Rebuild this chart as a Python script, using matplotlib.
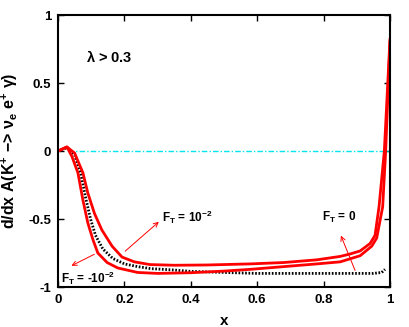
import matplotlib
matplotlib.use("Agg")
import matplotlib.pyplot as plt

plt.rcParams['font.family'] = ['Liberation Sans', 'DejaVu Sans']
plt.rcParams['font.weight'] = 'bold'
plt.rcParams['mathtext.fontset'] = 'custom'
plt.rcParams['mathtext.rm'] = 'Liberation Sans:bold'
plt.rcParams['mathtext.it'] = 'Liberation Sans:bold'
plt.rcParams['mathtext.bf'] = 'Liberation Sans:bold'

# F_T = 10^-2 (upper red)
x_pos = [0, 0.027, 0.05, 0.075, 0.09, 0.11, 0.132, 0.163, 0.193, 0.23, 0.277, 0.35, 0.45,
         0.58, 0.68, 0.78, 0.85, 0.88, 0.91, 0.94, 0.955, 0.967, 0.983, 1.0]
y_pos = [0, 0.03, -0.015, -0.16, -0.31, -0.46, -0.58, -0.70, -0.78, -0.815, -0.835, -0.84,
         -0.838, -0.83, -0.82, -0.80, -0.775, -0.757, -0.735, -0.68, -0.62, -0.41, 0.0, 0.82]

# F_T = -10^-2 (lower red)
x_neg = [0, 0.027, 0.042, 0.06, 0.075, 0.09, 0.105, 0.12, 0.148, 0.18, 0.24, 0.3, 0.4, 0.5,
         0.58, 0.68, 0.78, 0.85, 0.91, 0.945, 0.96, 0.978, 0.987, 1.0]
y_neg = [0, 0.03, -0.04, -0.16, -0.36, -0.53, -0.65, -0.75, -0.82, -0.86, -0.893, -0.90,
         -0.895, -0.883, -0.87, -0.85, -0.83, -0.815, -0.77, -0.70, -0.64, -0.41, 0.0, 0.80]

# F_T = 0 (black dotted)
x_zero = [0, 0.027, 0.05, 0.068, 0.083, 0.098, 0.113, 0.135, 0.165, 0.2, 0.24, 0.28, 0.35,
          0.4, 0.5, 0.6, 0.8, 0.95, 0.975, 0.985]
y_zero = [0, 0.025, -0.03, -0.16, -0.34, -0.5, -0.62, -0.72, -0.79, -0.83, -0.85, -0.865,
          -0.875, -0.885, -0.893, -0.9, -0.9, -0.9, -0.893, -0.87]

x_ticks = [0, 0.2, 0.4, 0.6, 0.8, 1]
x_tick_labels = ['0', '0.2', '0.4', '0.6', '0.8', '1']
y_ticks = [-1, -0.5, 0, 0.5, 1]
y_tick_labels = ['-1', '-0.5', '0', '0.5', '1']

fig = plt.figure(figsize=(4.09, 3.27), dpi=100)
ax = fig.add_axes([0.1418, 0.1223, 0.8117, 0.8317])

ax.plot([0.03, 1.0], [0, 0], color='#00e5ee', lw=1.0, ls=(0, (4, 1.5, 1, 1.5)))
ax.plot(x_zero, y_zero, color='black', lw=2.0, ls=(0, (0.6, 0.6)))
ax.plot(x_pos, y_pos, color='red', lw=2.0)
ax.plot(x_neg, y_neg, color='red', lw=2.0)

ax.set_xlim(0, 1)
ax.set_ylim(-1, 1)
ax.set_xticks(x_ticks)
ax.set_xticklabels(x_tick_labels, fontsize=9.5, fontweight='bold')
ax.set_yticks(y_ticks)
ax.set_yticklabels(y_tick_labels, fontsize=9.5, fontweight='bold')
ax.tick_params(direction='in', top=True, right=True, length=4, width=1, pad=5)
for s in ax.spines.values():
    s.set_linewidth(1.5)

ax.set_xlabel('x', fontsize=11, fontweight='bold', labelpad=6)
ax.set_ylabel(r'd/dx A(K$^{+}$ −> $\nu_{e}$ e$^{+}$ $\gamma$)', fontsize=11.5,
              fontweight='bold', labelpad=6)

ax.text(0.085, 0.69, r'$\lambda$ > 0.3', fontsize=10.5, fontweight='bold', va='center')
ax.text(0.313, -0.49, r'F$_T$ = 10$^{-2}$', fontsize=8.5, va='center')
ax.text(0.01, -0.935, r'F$_T$ = -10$^{-2}$', fontsize=8.5, va='center')
ax.text(0.795, -0.49, r'F$_T$ = 0', fontsize=8.5, va='center')

aprops = dict(arrowstyle='->', color='red', lw=0.7, mutation_scale=8)
ax.annotate('', xy=(0.31, -0.507), xytext=(0.196, -0.75), arrowprops=aprops)
ax.annotate('', xy=(0.033, -0.853), xytext=(0.117, -0.75), arrowprops=aprops)
ax.annotate('', xy=(0.849, -0.603), xytext=(0.898, -0.897), arrowprops=aprops)

fig.savefig('out.png', dpi=100)
